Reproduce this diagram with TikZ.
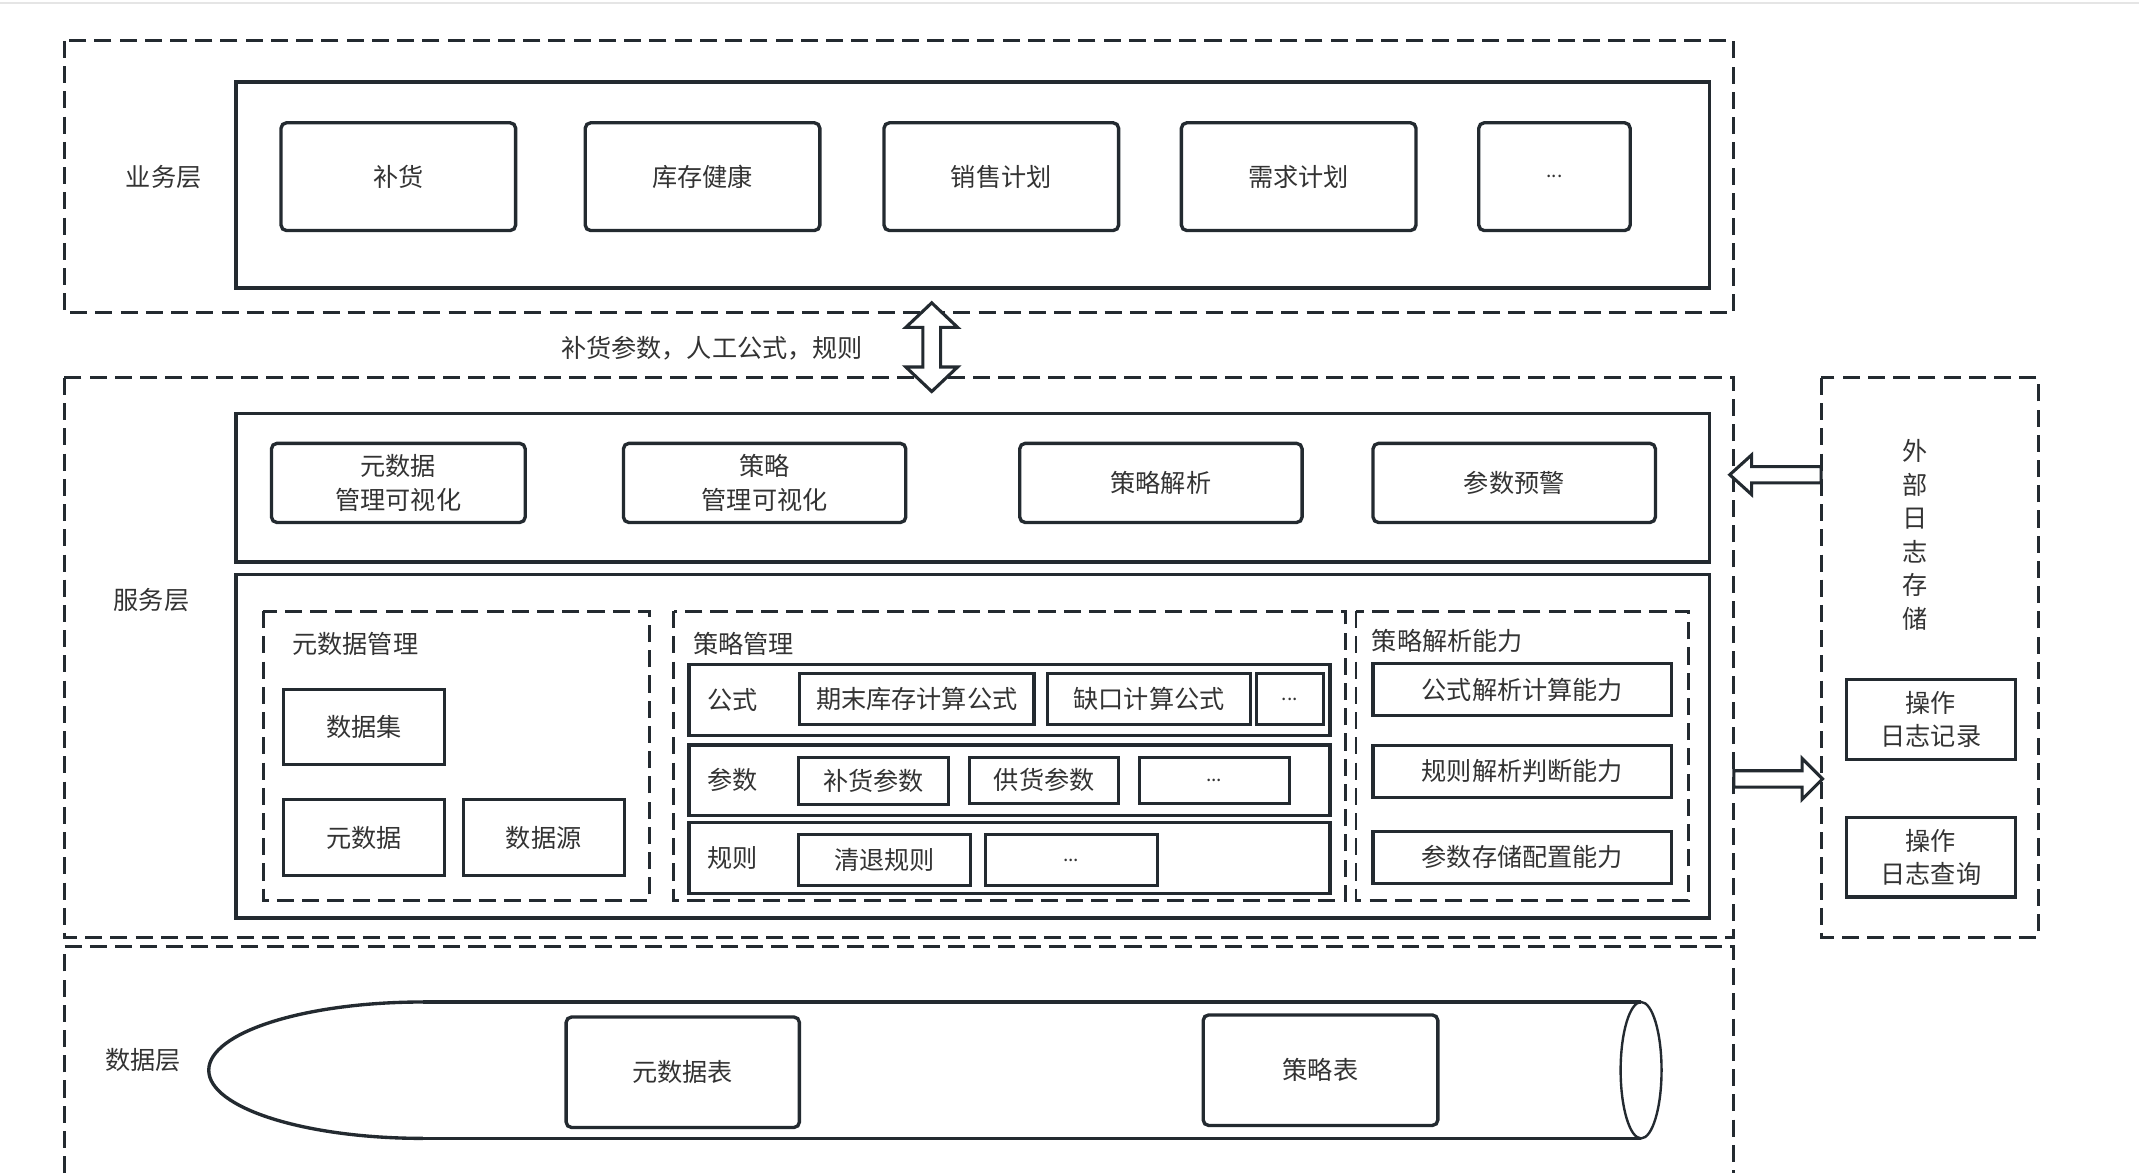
\documentclass[tikz,border=0pt]{standalone}
\usepackage{fontspec}
\setmainfont{Noto Sans CJK SC}
\usepackage{tikz}

\newlength{\pxu}
\setlength{\pxu}{0.02cm}
\definecolor{linec}{RGB}{35,42,48}
\definecolor{textc}{RGB}{51,51,51}

\begin{document}
\begin{tikzpicture}[
	x=0.02cm, y=-0.02cm,
	every node/.style={text=textc, font=\fontsize{10.5}{14}\selectfont},
	layer/.style={draw=linec, line width=1.2pt, dash pattern=on 0.25cm off 0.12cm},
	panel/.style={draw=linec, line width=1.4pt},
	card/.style={draw=linec, line width=1.4pt, rounded corners=0.08cm, align=center},
	cell/.style={draw=linec, line width=1.3pt, align=center},
	bizcard/.style={card, minimum width=172\pxu, minimum height=79\pxu},
	viewcard/.style={card, minimum width=207\pxu, minimum height=58\pxu},
	abilitycell/.style={cell, minimum width=219\pxu, minimum height=38\pxu},
	hollow/.style={draw=linec, line width=1.3pt, fill=white, line join=miter},
	dots/.style={font=\fontsize{8}{10}\selectfont}
]
\useasboundingbox (0,0) rectangle (1568,860);
\draw[gray!20, line width=1pt] (0,2) -- (1568,2);

% Business layer
\draw[layer] (47,30) rectangle (1271,229);
\draw[panel] (173,60) rectangle (1253,211);
\node (bizLabel) at (120,130) {业务层};
\node[bizcard] (buhuo) at (292,129.5) {补货};
\node[bizcard] (kucun) at (515,129.5) {库存健康};
\node[bizcard] (xiaoshou) at (734,129.5) {销售计划};
\node[bizcard] (xuqiu) at (952,129.5) {需求计划};
\node[bizcard, minimum width=111\pxu, dots] (bizMore) at (1139.5,129.5) {...};

\node (flowLabel) at (522,255) {补货参数，人工公式，规则};

% Service layer
\draw[layer] (47,277) rectangle (1271,687);
\node (svcLabel) at (111,440) {服务层};
\draw[panel] (173,303) rectangle (1253,412);
\node[viewcard, minimum width=186\pxu] (metaView) at (292,354) {元数据\\管理可视化};
\node[viewcard] (ruleView) at (560.5,354) {策略\\管理可视化};
\node[viewcard] (parseView) at (851,354) {策略解析};
\node[viewcard] (warnView) at (1110,354) {参数预警};

\draw[panel] (173,421) rectangle (1253,673);

% metadata management
\draw[layer] (193,448) rectangle (476,660);
\node (metaTitle) at (260.5,472) {元数据管理};
\node[cell, minimum width=118\pxu, minimum height=55\pxu] (dataset) at (267,533) {数据集};
\node[cell, minimum width=118\pxu, minimum height=56\pxu] (metadata) at (267,614) {元数据};
\node[cell, minimum width=118\pxu, minimum height=56\pxu] (source) at (398.5,614) {数据源};

% strategy management
\draw[layer] (494,448) rectangle (986,660);
\node (ruleTitle) at (545,472) {策略管理};
\draw[panel] (505,487) rectangle (975,539);
\draw[panel] (505,546) rectangle (975,598);
\draw[panel] (505,603) rectangle (975,655);
\node (rowFormula) at (537,513) {公式};
\node (rowParam) at (537,572) {参数};
\node (rowRule) at (537,629) {规则};
\node[cell, minimum width=172\pxu, minimum height=37\pxu] (endStock) at (672,512.5) {期末库存计算公式};
\node[cell, minimum width=149\pxu, minimum height=37\pxu] (gapCalc) at (842.3,512.5) {缺口计算公式};
\node[cell, minimum width=49\pxu, minimum height=37\pxu, dots] (formulaMore) at (945.5,512.5) {...};
\node[cell, minimum width=110\pxu, minimum height=34\pxu] (refillParam) at (640.4,572.5) {补货参数};
\node[cell, minimum width=109\pxu, minimum height=34\pxu] (supplyParam) at (765.5,572) {供货参数};
\node[cell, minimum width=110\pxu, minimum height=34\pxu, dots] (paramMore) at (890,572) {...};
\node[cell, minimum width=126\pxu, minimum height=37\pxu] (clearRule) at (648.6,630.5) {清退规则};
\node[cell, minimum width=126\pxu, minimum height=37\pxu, dots] (ruleMore) at (785.3,630.5) {...};

% strategy parsing ability
\draw[layer] (994,448) rectangle (1238,660);
\node (abilityTitle) at (1061,470) {策略解析能力};
\node[abilitycell] (formulaAbility) at (1116,505.5) {公式解析计算能力};
\node[abilitycell] (ruleAbility) at (1116,565.5) {规则解析判断能力};
\node[abilitycell] (paramAbility) at (1116,628.5) {参数存储配置能力};

% External log storage
\draw[layer] (1335,277) rectangle (1494,687);
\node[align=center, inner sep=0pt] (extTitle) at (1404,392) {外\\部\\日\\志\\存\\储};
\node[cell, minimum width=124\pxu, minimum height=59\pxu] (opLog) at (1415.5,527.5) {操作\\日志记录};
\node[cell, minimum width=124\pxu, minimum height=58\pxu] (opQuery) at (1415.5,628.5) {操作\\日志查询};

% Data layer
\draw[layer] (47,860) -- (47,694) -- (1271,694) -- (1271,860);
\node (dataLabel) at (105,777) {数据层};
\draw[panel] (310,734.5) -- (1203,734.5);
\draw[panel] (310,834.5) -- (1203,834.5);
\draw[panel] (310,734.5) arc[start angle=90, end angle=270, x radius=3.14cm, y radius=1cm];
\draw[draw=linec, line width=1pt] (1203,784.5) ellipse[x radius=0.3cm, y radius=1cm];
\node[card, minimum width=171\pxu, minimum height=81\pxu] (metaTable) at (500.5,786) {元数据表};
\node[card, minimum width=172\pxu, minimum height=81\pxu] (ruleTable) at (968,784.5) {策略表};

% Hollow arrows
\draw[hollow] (683,222) -- (702,240) -- (689.5,240) -- (689.5,269) -- (702,269) -- (683,287)
	-- (664,269) -- (676.5,269) -- (676.5,240) -- (664,240) -- cycle;
\draw[hollow] (1268,348) -- (1284,333.5) -- (1284,342) -- (1335,342) -- (1335,354)
	-- (1284,354) -- (1284,362.5) -- cycle;
\draw[hollow] (1336,571) -- (1321,556) -- (1321,565) -- (1271,565) -- (1271,577)
	-- (1321,577) -- (1321,586) -- cycle;
\end{tikzpicture}
\end{document}
